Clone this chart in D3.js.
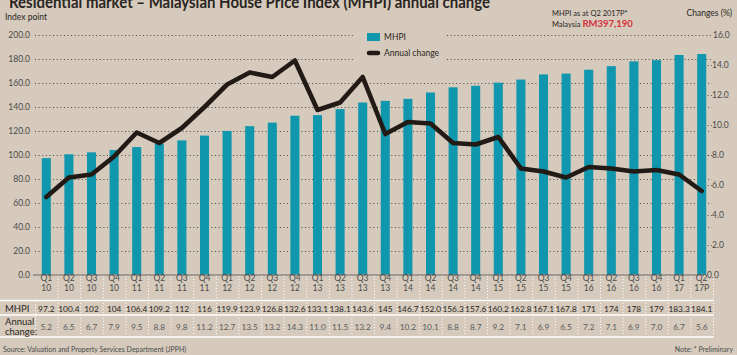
<!DOCTYPE html>
<html><head><meta charset="utf-8">
<script src="https://cdn.jsdelivr.net/npm/d3@7"></script>
<style>
html,body{margin:0;padding:0;background:#d5cabc;}
svg{display:block;}
text{font-family:Lato,"Open Sans",sans-serif;}
</style></head>
<body>
<svg id="c" width="737" height="355"></svg>
<script>
const quarters = ["Q1","Q2","Q3","Q4","Q1","Q2","Q3","Q4","Q1","Q2","Q3","Q4","Q1","Q2","Q3","Q4","Q1","Q2","Q3","Q4","Q1","Q2","Q3","Q4","Q1","Q2","Q3","Q4","Q1","Q2"];
const years = ["10","10","10","10","11","11","11","11","12","12","12","12","13","13","13","13","14","14","14","14","15","15","15","15","16","16","16","16","17","17P"];
const mhpi = ["97.2","100.4","102","104","106.4","109.2","112","116","119.9","123.9","126.8","132.6","133.1","138.1","143.6","145","146.7","152.0","156.3","157.6","160.2","162.8","167.1","167.8","171","174","178","179","183.3","184.1"];
const annualChange = ["5.2","6.5","6.7","7.9","9.5","8.8","9.8","11.2","12.7","13.5","13.2","14.3","11.0","11.5","13.2","9.4","10.2","10.1","8.8","8.7","9.2","7.1","6.9","6.5","7.2","7.1","6.9","7.0","6.7","5.6"];
const leftTicks = [0,20,40,60,80,100,120,140,160,180,200];
const rightTicks = [0,2,4,6,8,10,12,14,16];

const svg = d3.select("#c");
const idx = d3.range(mhpi.length);
const xCell = d3.scaleBand().domain(idx).range([35,713]).padding(0);
const xBar = d3.scaleBand().domain(idx).range([35,713]).paddingInner(0.6).paddingOuter(0.3);
const yL = d3.scaleLinear().domain([0,200]).range([274.5,35]);
const yR = d3.scaleLinear().domain([0,16]).range([275,35]);

// title
svg.append("text").attr("x",9).attr("y",8).attr("font-family","'Open Sans',sans-serif")
  .attr("font-weight","bold").attr("font-size",17).attr("fill","#2a2522")
  .attr("textLength",481).attr("lengthAdjust","spacingAndGlyphs")
  .text("Residential market – Malaysian House Price Index (MHPI) annual change");

svg.append("text").attr("x",5).attr("y",20).attr("font-size",8.5).attr("fill","#2a2522").text("Index point");
svg.append("text").attr("x",732).attr("y",16).attr("text-anchor","end").attr("font-size",8.5).attr("fill","#2a2522").text("Changes (%)");
svg.append("text").attr("x",552).attr("y",16).attr("font-size",7.5).attr("fill","#2a2522").text("MHPI as at Q2 2017P*");
const t2 = svg.append("text").attr("x",552).attr("y",27).attr("font-size",7.5).attr("fill","#2a2522");
t2.append("tspan").text("Malaysia ");
t2.append("tspan").attr("font-weight","bold").attr("font-size",9.5).attr("fill","#d6303a").text("RM397,190");

// gridlines
const grid = svg.append("g").attr("stroke","#4a4a4a").attr("stroke-width",1).attr("stroke-dasharray","1,2.6");
leftTicks.filter(d=>d>0).forEach(d=>{
  const y = Math.round(yL(d))+0.5;
  if (d>=180) {
    grid.append("line").attr("x1",35).attr("x2",355).attr("y1",y).attr("y2",y);
    grid.append("line").attr("x1",447).attr("x2",712).attr("y1",y).attr("y2",y);
  } else {
    grid.append("line").attr("x1",35).attr("x2",712).attr("y1",y).attr("y2",y);
  }
});
rightTicks.filter(d=>d>0&&d<16).forEach(d=>{
  const y = Math.round(yR(d))+0.5;
  grid.append("line").attr("x1",704).attr("x2",712).attr("y1",y).attr("y2",y);
});

// axis labels
svg.append("g").selectAll("text").data(leftTicks).join("text")
  .attr("x",30).attr("y",d=>yL(d)+3).attr("text-anchor","end").attr("font-size",8.5).attr("fill","#4a4a4a")
  .text(d=>d3.format(".1f")(d));
svg.append("g").selectAll("text").data(rightTicks).join("text")
  .attr("x",d=>d===0?707:d===16?713:712).attr("y",d=>yR(d)+3).attr("font-size",8.5).attr("fill","#4a4a4a")
  .text(d=>d3.format(".1f")(d));

// bars
svg.append("g").selectAll("rect").data(idx).join("rect")
  .attr("x",i=>xBar(i)).attr("width",xBar.bandwidth())
  .attr("y",i=>yL(+mhpi[i])).attr("height",i=>yL(0)-yL(+mhpi[i]))
  .attr("fill","#1197ad");

// baseline
svg.append("line").attr("x1",33).attr("x2",704).attr("y1",275).attr("y2",275).attr("stroke","#6a6a6a").attr("stroke-width",1);

// line
const line = d3.line().x(i=>xCell(i)+xCell.bandwidth()/2).y(i=>yR(+annualChange[i]));
svg.append("path").datum(idx).attr("d",line).attr("fill","none").attr("stroke","#221a15")
  .attr("stroke-width",4.6).attr("stroke-linejoin","round").attr("stroke-linecap","round");

// legend
svg.append("rect").attr("x",367).attr("y",33).attr("width",13).attr("height",8).attr("fill","#1197ad");
svg.append("text").attr("x",384).attr("y",40).attr("font-size",8.5).attr("fill","#2a2522").text("MHPI");
svg.append("line").attr("x1",369).attr("x2",378).attr("y1",53).attr("y2",53).attr("stroke","#221a15").attr("stroke-width",4.5).attr("stroke-linecap","round");
svg.append("text").attr("x",384).attr("y",56).attr("font-size",8.5).attr("fill","#2a2522").text("Annual change");

// table
const tbl = svg.append("g");
idx.concat([30]).forEach(i=>{
  const x = i<30 ? xCell(i) : 713;
  tbl.append("line").attr("x1",x+0.5).attr("x2",x+0.5).attr("y1",i===0?301:276).attr("y2",337)
    .attr("stroke","#ffffff").attr("stroke-width",1).attr("stroke-dasharray","1,2");
});
[300.5,315,337].forEach(y=>{
  tbl.append("line").attr("x1",0).attr("x2",713).attr("y1",y).attr("y2",y).attr("stroke","#ffffff").attr("stroke-width",1.6);
});
const cx = i=>xCell(i)+xCell.bandwidth()/2;
tbl.selectAll("text.q").data(idx).join("text").attr("class","q")
  .attr("x",cx).attr("y",281).attr("text-anchor","middle").attr("font-size",8.5).attr("fill","#4a4a4a").text(i=>quarters[i]);
tbl.selectAll("text.yr").data(idx).join("text").attr("class","yr")
  .attr("x",cx).attr("y",291).attr("text-anchor","middle").attr("font-size",8.5).attr("fill","#4a4a4a").text(i=>years[i]);
tbl.selectAll("text.m").data(idx).join("text").attr("class","m")
  .attr("x",cx).attr("y",311.5).attr("text-anchor","middle").attr("font-size",8.3).attr("fill","#2a2522").text(i=>mhpi[i]);
tbl.selectAll("text.a").data(idx).join("text").attr("class","a")
  .attr("x",cx).attr("y",329.5).attr("text-anchor","middle").attr("font-size",8.3).attr("fill","#5a5a5a").text(i=>annualChange[i]);
tbl.append("text").attr("x",5).attr("y",312).attr("font-size",9.5).attr("fill","#2a2522").text("MHPI");
tbl.append("text").attr("x",5).attr("y",325).attr("font-size",9.5).attr("fill","#2a2522").text("Annual");
tbl.append("text").attr("x",5).attr("y",334.5).attr("font-size",9.5).attr("fill","#2a2522").text("change:");

svg.append("text").attr("x",3).attr("y",352).attr("font-size",7).attr("fill","#4a4a4a").text("Source: Valuation and Property Services  Department (JPPH)");
svg.append("text").attr("x",733).attr("y",352).attr("text-anchor","end").attr("font-size",7).attr("fill","#4a4a4a").text("Note: * Preliminary");
</script>
</body></html>
